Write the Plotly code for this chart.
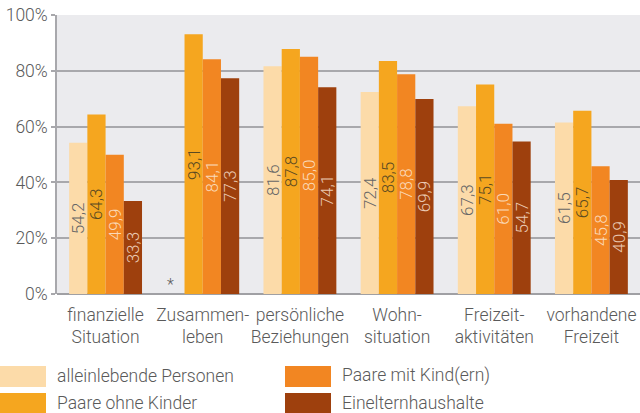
import plotly.graph_objects as go

categories = ["finanzielle<br>Situation", "Zusammen-<br>leben", "persönliche<br>Beziehungen",
              "Wohn-<br>situation", "Freizeit-<br>aktivitäten", "vorhandene<br>Freizeit"]
series_names = ["alleinlebende Personen", "Paare ohne Kinder", "Paare mit Kind(ern)", "Einelternhaushalte"]
alleinlebende = [54.2, None, 81.6, 72.4, 67.3, 61.5]
paare_ohne = [64.3, 93.1, 87.8, 83.5, 75.1, 65.7]
paare_mit = [49.9, 84.1, 85.0, 78.8, 61.0, 45.8]
eineltern = [33.3, 77.3, 74.1, 69.9, 54.7, 40.9]
y_ticks = [0, 20, 40, 60, 80, 100]
y_ticklabels = ["0%", "20%", "40%", "60%", "80%", "100%"]

series_values = [alleinlebende, paare_ohne, paare_mit, eineltern]
bar_colors = ["#FCDBA9", "#F5A61F", "#F28622", "#9E400D"]
text_colors = ["#666666", "#5A4A22", "#FAD9B8", "#EAC9B2"]

FONT = "Roboto"
FS = 17.5
TXT = "#5A5A5A"
fig = go.Figure()
for name, vals, col, tcol in zip(series_names, series_values, bar_colors, text_colors):
    fig.add_trace(go.Bar(
        x=categories, y=vals, name=name, marker=dict(color=col, line=dict(width=0)),
        text=[("" if v is None else f"{v:.1f}".replace(".", ",")) for v in vals],
        textposition="inside", insidetextanchor="middle", textangle=-90,
        textfont=dict(family=FONT, size=17, color=tcol, weight=300),
        showlegend=False, cliponaxis=False, hoverinfo="skip",
    ))

# asterisk for missing value
fig.add_annotation(x=categories[1], y=0, xref="x", yref="y", text="*", showarrow=False,
                   xshift=-32, yshift=10, font=dict(family=FONT, size=16, color=TXT))

# manual legend
leg_pos = [(0.0, 376), (0.0, 403), (285, 376), (285, 403)]
for (lx, ly), name, col in zip(leg_pos, series_names, bar_colors):
    fig.add_shape(type="rect", xref="paper", yref="paper",
                  x0=(lx - 57) / 583, x1=(lx + 46 - 57) / 583,
                  y0=-(ly + 11 - 294) / 279, y1=-(ly - 10 - 294) / 279,
                  fillcolor=col, line=dict(width=0), layer="above")
    fig.add_annotation(xref="paper", yref="paper", x=(lx + 55 - 57) / 583, y=-(ly - 294) / 279,
                       text=name, showarrow=False, xanchor="left", yanchor="middle",
                       font=dict(family=FONT, size=FS, color=TXT, weight=300))

fig.update_layout(
    width=640, height=413, margin=dict(l=57, r=0, t=15, b=119, autoexpand=False),
    paper_bgcolor="white", plot_bgcolor="#EBEBEE",
    barmode="group", bargap=0.25, bargroupgap=0,
    font=dict(family=FONT, size=FS, color=TXT, weight=300),
    xaxis=dict(showgrid=False, tickfont=dict(family=FONT, size=FS, color=TXT, weight=300),
               tickangle=0,
               ticks="", showline=False, fixedrange=True, automargin=False, ticklabelstandoff=8),
    yaxis=dict(range=[0, 100], tickvals=y_ticks, ticktext=y_ticklabels, automargin=False,
               showgrid=True, gridcolor="#A8A8AC", gridwidth=1.5,
               showline=True, linecolor="#A8A8AC", linewidth=1.5,
               ticks="outside", ticklen=4, tickcolor="#A8A8AC", tickwidth=1.5,
               zeroline=True, zerolinecolor="#A0A0A4", zerolinewidth=2, fixedrange=True,
               tickfont=dict(family=FONT, size=FS, color=TXT, weight=300)),
    uniformtext=dict(mode="show", minsize=17),
)
fig.write_html("out.html", config={"displayModeBar": False},
               post_script="document.body.style.margin='0';document.body.style.overflow='hidden';")
